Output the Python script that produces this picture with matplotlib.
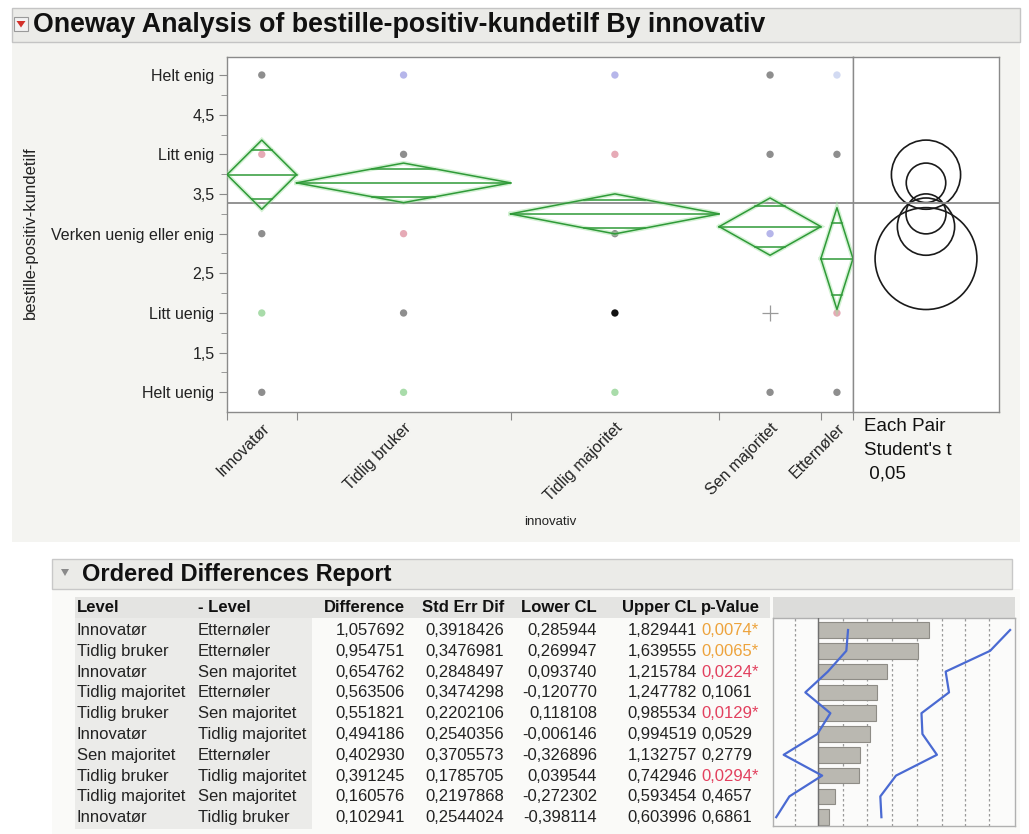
import numpy as np
import matplotlib
matplotlib.use("Agg")
import matplotlib.pyplot as plt
from matplotlib.patches import Rectangle, Polygon, Circle

plt.rcParams['font.family'] = ['Liberation Sans', 'DejaVu Sans']

# Grupper (bredde proporsjonal med antall)
groups = ['Innovatør', 'Tidlig bruker', 'Tidlig majoritet', 'Sen majoritet', 'Etternøler']
group_n = [13, 40, 39, 19, 6]
group_mean = [3.7436, 3.6407, 3.2494, 3.0888, 2.6859]
ci_half = [0.436, 0.249, 0.252, 0.361, 0.642]
grand_mean = 3.383

# Svarskala
y_ticks = [1, 1.5, 2, 2.5, 3, 3.5, 4, 4.5, 5]
y_ticklabels = ['Helt uenig', '1,5', 'Litt uenig', '2,5', 'Verken uenig eller enig',
                '3,5', 'Litt enig', '4,5', 'Helt enig']

# Enkeltpunkter per gruppe
pt_group = [0, 0, 0, 0, 0, 1, 1, 1, 1, 1, 2, 2, 2, 2, 2, 3, 3, 3, 3, 3, 4, 4, 4, 4]
pt_value = [5, 4, 3, 2, 1, 5, 4, 3, 2, 1, 5, 4, 3, 2, 1, 5, 4, 3, 2, 1, 5, 4, 2, 1]
pt_kind = ['grey', 'pink', 'grey', 'green', 'grey',
           'blue', 'grey', 'pink', 'grey', 'green',
           'blue', 'pink', 'grey', 'black', 'green',
           'grey', 'grey', 'blue', 'plus', 'grey',
           'faint', 'grey', 'pink', 'grey']
kind_color = {'grey': '#8e8e8e', 'pink': '#e6aab6', 'blue': '#b6b6ea', 'green': '#a9dcaa',
              'black': '#111111', 'faint': '#d2daf2', 'plus': '#9a9a9a'}

# Ordered Differences Report
lvl_a = ['Innovatør', 'Tidlig bruker', 'Innovatør', 'Tidlig majoritet', 'Tidlig bruker',
         'Innovatør', 'Sen majoritet', 'Tidlig bruker', 'Tidlig majoritet', 'Innovatør']
lvl_b = ['Etternøler', 'Etternøler', 'Sen majoritet', 'Etternøler', 'Sen majoritet',
         'Tidlig majoritet', 'Etternøler', 'Tidlig majoritet', 'Sen majoritet', 'Tidlig bruker']
diff = [1.057692, 0.954751, 0.654762, 0.563506, 0.551821, 0.494186, 0.402930, 0.391245, 0.160576, 0.102941]
std_err = [0.3918426, 0.3476981, 0.2848497, 0.3474298, 0.2202106, 0.2540356, 0.3705573, 0.1785705, 0.2197868, 0.2544024]
lower_cl = [0.285944, 0.269947, 0.093740, -0.120770, 0.118108, -0.006146, -0.326896, 0.039544, -0.272302, -0.398114]
upper_cl = [1.829441, 1.639555, 1.215784, 1.247782, 0.985534, 0.994519, 1.132757, 0.742946, 0.593454, 0.603996]
p_value = [0.0074, 0.0065, 0.0224, 0.1061, 0.0129, 0.0529, 0.2779, 0.0294, 0.4657, 0.6861]
bar_grid = [-0.22, 0.24, 0.47, 0.70, 0.94, 1.18, 1.40, 1.63]

W, H = 1029, 834
fig = plt.figure(figsize=(W / 100, H / 100), dpi=100)
fig.patch.set_facecolor('white')


def px_box(x0, y0, x1, y1):
    return [x0 / W, 1 - y1 / H, (x1 - x0) / W, (y1 - y0) / H]


def comma(v, d):
    return f"{v:.{d}f}".replace('.', ',')


# bakgrunn, overskrifter og tabell tegnes i pikselkoordinater
bg = fig.add_axes([0, 0, 1, 1])
bg.set_xlim(0, W)
bg.set_ylim(H, 0)
bg.axis('off')

bg.add_patch(Rectangle((12, 42), 1008, 500, fc='#f4f4f1', ec='none'))
bg.add_patch(Rectangle((12, 8), 1008, 34, fc='#ebebe8', ec='#c4c4c4', lw=1))
bg.add_patch(Rectangle((14, 17), 14, 14, fc='#f2f2f2', ec='#9a9a9a', lw=0.8))
bg.add_patch(Polygon([(16.5, 21), (25.5, 21), (21, 27.5)], fc='#d3312b', ec='none'))
bg.text(33, 25, 'Oneway Analysis of bestille-positiv-kundetilf By innovativ',
        fontsize=19.3, fontweight='bold', va='center', ha='left', color='#111111')

bg.text(30, 233, 'bestille-positiv-kundetilf', rotation=90, fontsize=12,
        ha='center', va='center', color='#222222')
bg.text(550, 522, 'innovativ', fontsize=9.5, ha='center', va='center', color='#222222')
for i, line in enumerate(['Each Pair', "Student's t", ' 0,05']):
    bg.text(864, 431 + i * 23.5, line, fontsize=13.5, ha='left', va='baseline', color='#111111')

# rapportdel
bg.add_patch(Rectangle((52, 589), 968, 245, fc='#fafaf8', ec='none'))
bg.add_patch(Rectangle((52, 559), 960, 30, fc='#ebebe8', ec='#c8c8c8', lw=1))
bg.add_patch(Polygon([(61, 569), (69, 569), (65, 576)], fc='#8a8a8a', ec='none'))
bg.text(82, 574, 'Ordered Differences Report', fontsize=17, fontweight='bold',
        va='center', ha='left', color='#111111')

row_y0, row_h = 630, 20.8
head_y = 607
base = 5  # fra radmidte til grunnlinje
bg.add_patch(Rectangle((75, 597), 695, 21, fc='#e4e4e2', ec='none'))
bg.add_patch(Rectangle((75, 618), 237, 211, fc='#ebebe9', ec='none'))
bg.add_patch(Rectangle((773, 597), 242, 21, fc='#dcdcda', ec='none'))

fs = 12
headers = [('Level', 77, 'left'), ('- Level', 198, 'left'), ('Difference', 405, 'right'),
           ('Std Err Dif', 504, 'right'), ('Lower CL', 597, 'right'),
           ('Upper CL', 697, 'right'), ('p-Value', 701, 'left')]
for txt, x, ha in headers:
    bg.text(x, head_y + base, txt, fontsize=fs, fontweight='bold', ha=ha, va='baseline',
            color='#111111')

for i in range(len(diff)):
    y = row_y0 + i * row_h + base
    bg.text(77, y, lvl_a[i], fontsize=fs, ha='left', va='baseline', color='#222222')
    bg.text(198, y, lvl_b[i], fontsize=fs, ha='left', va='baseline', color='#222222')
    bg.text(405, y, comma(diff[i], 6), fontsize=fs, ha='right', va='baseline', color='#222222')
    bg.text(504, y, comma(std_err[i], 7), fontsize=fs, ha='right', va='baseline', color='#222222')
    bg.text(597, y, comma(lower_cl[i], 6), fontsize=fs, ha='right', va='baseline', color='#222222')
    bg.text(697, y, comma(upper_cl[i], 6), fontsize=fs, ha='right', va='baseline', color='#222222')
    p = p_value[i]
    if p < 0.01:
        pc, ptxt = '#eda33c', comma(p, 4) + '*'
    elif p < 0.05:
        pc, ptxt = '#e2405e', comma(p, 4) + '*'
    else:
        pc, ptxt = '#222222', comma(p, 4)
    bg.text(701, y, ptxt, fontsize=fs, ha='left', va='baseline', color=pc)

# hovedplott: punkter og middelverdi-diamanter
ax = fig.add_axes(px_box(227, 57, 853, 412))
edges = np.concatenate([[0], np.cumsum(group_n)])
centers = (edges[:-1] + edges[1:]) / 2
ax.set_xlim(edges[0], edges[-1])
ax.set_ylim(0.752, 5.227)
ax.set_facecolor('white')

for g, v, k in zip(pt_group, pt_value, pt_kind):
    if k == 'plus':
        ax.scatter(centers[g], v, marker='+', s=120, color=kind_color[k], linewidths=0.9, zorder=3)
    else:
        ax.scatter(centers[g], v, s=28, color=kind_color[k], edgecolors='none', zorder=3)

ax.axhline(grand_mean, color='#8a8a8a', lw=1.3, zorder=2)

for i in range(len(groups)):
    L, R, C = edges[i], edges[i + 1], centers[i]
    m, h = group_mean[i], ci_half[i]
    xs = [L, C, R, C, L]
    ys = [m, m + h, m, m - h, m]
    ax.plot(xs, ys, color='#9ee09e', lw=3.2, alpha=0.45, zorder=4, solid_joinstyle='miter')
    ax.plot(xs, ys, color='#2f9a38', lw=1.1, zorder=5)
    ax.plot([L, R], [m, m], color='#2f9a38', lw=1.1, zorder=5)
    d = h / np.sqrt(2)
    half_w = (R - L) / 2 * (1 - d / h)
    for yy in (m + d, m - d):
        ax.plot([C - half_w, C + half_w], [yy, yy], color='#2f9a38', lw=1.1, zorder=5)

ax.set_yticks(y_ticks)
ax.set_yticklabels(y_ticklabels, fontsize=11.5, color='#222222')
ax.set_yticks(np.arange(1.25, 5.0, 0.5), minor=True)
ax.set_xticks(edges)
ax.set_xticklabels([])
ax.set_xticks(centers, minor=True)
ax.set_xticklabels(groups, minor=True, rotation=45, ha='right', rotation_mode='anchor',
                   fontsize=11.5, color='#222222')
ax.tick_params(axis='y', which='major', length=6, color='#8a8a8a', pad=3)
ax.tick_params(axis='y', which='minor', length=4, color='#8a8a8a')
ax.tick_params(axis='x', which='major', length=6, color='#8a8a8a')
ax.tick_params(axis='x', which='minor', length=0, pad=6)
for s in ax.spines.values():
    s.set_color('#8a8a8a')
    s.set_linewidth(1)

# sammenligningssirkler
cx = fig.add_axes(px_box(853, 57, 999, 412))
cx.set_ylim(ax.get_ylim())
px_per_unit = (412 - 57) / (ax.get_ylim()[1] - ax.get_ylim()[0])
half_range = (999 - 853) / 2 / px_per_unit
cx.set_xlim(-half_range, half_range)
cx.axhline(grand_mean, color='#8a8a8a', lw=1.3)
for m, r in zip(group_mean, ci_half):
    cx.add_patch(Circle((0, m), r, fill=False, ec='#1a1a1a', lw=1.2))
cx.set_xticks([])
cx.set_yticks([])
for s in cx.spines.values():
    s.set_color('#8a8a8a')
    s.set_linewidth(1)

# stolpediagram for forskjellene
bx = fig.add_axes(px_box(773, 618, 1015, 826))
x_zero, x_scale = 818, 105
bx.set_xlim((773 - x_zero) / x_scale, (1015 - x_zero) / x_scale)
bx.set_ylim((826 - row_y0) / row_h, (618 - row_y0) / row_h)
bx.set_facecolor('#fbfbfa')
rows = np.arange(len(diff))
for g in bar_grid:
    bx.axvline(g, color='#9a9a9a', lw=0.9, ls=(0, (2, 2)), zorder=1)
bx.barh(rows, diff, height=0.75, color='#bab8b1', edgecolor='#8e8c86', lw=0.8, zorder=2)
bx.axvline(0, color='#707070', lw=1.0, zorder=3)
bx.plot(lower_cl, rows, color='#4a6ad2', lw=1.6, zorder=4)
bx.plot(upper_cl, rows, color='#4a6ad2', lw=1.6, zorder=4)
bx.set_xticks([])
bx.set_yticks([])
for s in bx.spines.values():
    s.set_color('#b0b0b0')
    s.set_linewidth(1)

fig.savefig('out.png', dpi=100)
